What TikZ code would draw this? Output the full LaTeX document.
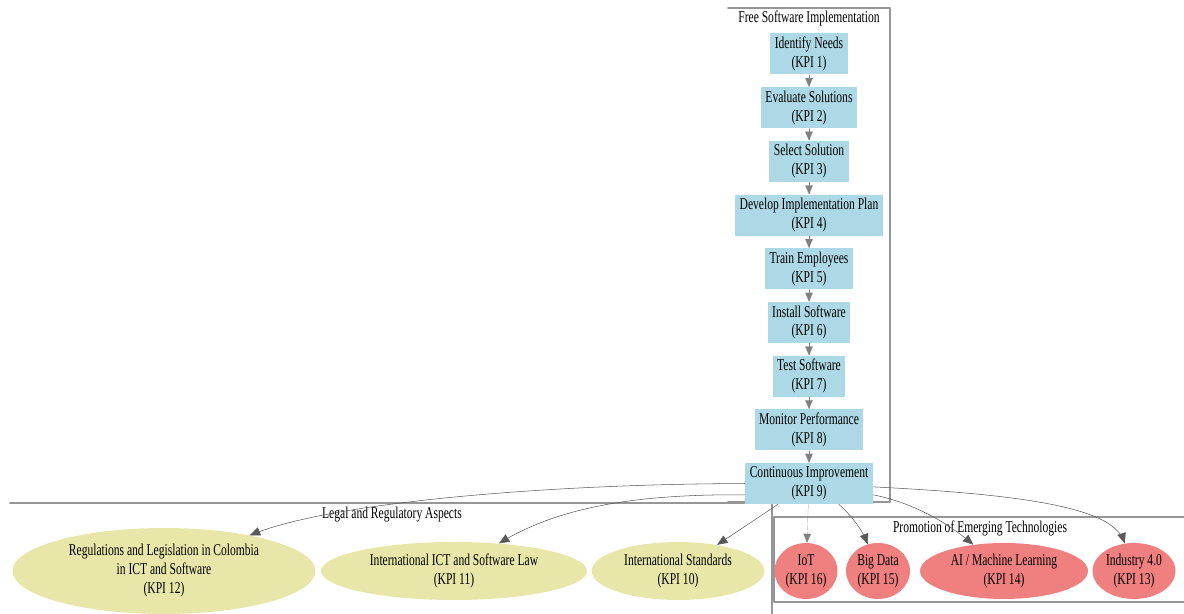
\documentclass[tikz,border=0pt]{standalone}
\usepackage{fontspec}
\setmainfont{Liberation Serif}[FakeStretch=0.7]
\usetikzlibrary{arrows}
\usetikzlibrary{positioning}
\usetikzlibrary{shapes.geometric}
\definecolor{fsblue}{RGB}{173,216,230}
\definecolor{legalyellow}{RGB}{232,230,168}
\definecolor{techred}{RGB}{240,128,128}
\definecolor{framegray}{RGB}{150,150,150}
\tikzset{
  kpifont/.style={font=\fontsize{9.4}{10.8}\selectfont},
  fsbox/.style={rectangle,fill=fsblue,align=center,kpifont,inner xsep=0.09cm,inner ysep=0pt,minimum height=0.82cm},
  legalell/.style={ellipse,fill=legalyellow,align=center,kpifont,inner sep=0pt},
  techell/.style={ellipse,fill=techred,align=center,kpifont,inner sep=0pt,minimum height=1.12cm},
  kpiarrow/.style={->,line width=0.3pt,black!65},
  steparrow/.style={->,line width=0.1pt,black!50},
  frame/.style={line width=0.9pt,framegray}
}

\begin{document}
\begin{tikzpicture}[line cap=round,line join=round,>=triangle 45,x=0.02cm,y=0.02cm]
\useasboundingbox (0,0) rectangle (1184,614);
\clip(0,0) rectangle (1184,614);
% cluster frames
\draw [frame] (728,606) -- (890,606) -- (890,112) -- (728,112);
\draw [frame] (10,111) -- (772,111) -- (772,-5);
\draw [frame] (1190,97) -- (774,97) -- (774,12) -- (1190,12);
\node [kpifont] (fslabel) at (809,596) {Free Software Implementation};
\node [kpifont] (legallabel) at (392,99) {Legal and Regulatory Aspects};
\node [kpifont] (techlabel) at (980,86) {Promotion of Emerging Technologies};
% implementation steps
\node [fsbox] (n1) at (809,560) {Identify Needs\\(KPI 1)};
\node [fsbox,below=0.24cm of n1] (n2) {Evaluate Solutions\\(KPI 2)};
\node [fsbox,below=0.24cm of n2] (n3) {Select Solution\\(KPI 3)};
\node [fsbox,below=0.24cm of n3] (n4) {Develop Implementation Plan\\(KPI 4)};
\node [fsbox,below=0.24cm of n4] (n5) {Train Employees\\(KPI 5)};
\node [fsbox,below=0.24cm of n5] (n6) {Install Software\\(KPI 6)};
\node [fsbox,below=0.24cm of n6] (n7) {Test Software\\(KPI 7)};
\node [fsbox,below=0.24cm of n7] (n8) {Monitor Performance\\(KPI 8)};
\node [fsbox,below=0.24cm of n8] (n9) {Continuous Improvement\\(KPI 9)};
\draw [steparrow] (n1) -- (n2);
\draw [steparrow] (n2) -- (n3);
\draw [steparrow] (n3) -- (n4);
\draw [steparrow] (n4) -- (n5);
\draw [steparrow] (n5) -- (n6);
\draw [steparrow] (n6) -- (n7);
\draw [steparrow] (n7) -- (n8);
\draw [steparrow] (n8) -- (n9);
% legal aspects
\node [legalell,minimum width=6.06cm,minimum height=1.72cm] (n12) at (164,43) {Regulations and Legislation in Colombia\\in ICT and Software\\(KPI 12)};
\node [legalell,minimum width=5.32cm,minimum height=1.16cm] (n11) at (454,43) {International ICT and Software Law\\(KPI 11)};
\node [legalell,minimum width=3.46cm,minimum height=1.16cm] (n10) at (678,43) {International Standards\\(KPI 10)};
% emerging technologies
\node [techell,minimum width=1.26cm] (n16) at (806,43) {IoT\\(KPI 16)};
\node [techell,minimum width=1.28cm] (n15) at (878,43) {Big Data\\(KPI 15)};
\node [techell,minimum width=3.36cm] (n14) at (1004,43) {AI / Machine Learning\\(KPI 14)};
\node [techell,minimum width=1.66cm] (n13) at (1134,43) {Industry 4.0\\(KPI 13)};
\draw [kpiarrow] (n9.west) .. controls (550,130) and (330,112) .. (n12);
\draw [kpiarrow] (n9.190) .. controls (640,120) and (560,108) .. (n11);
\draw [kpiarrow] (n9) -- (n10);
\draw [steparrow] (n9) -- (n16);
\draw [kpiarrow] (n9.-35) .. controls (850,100) and (862,85) .. (n15);
\draw [kpiarrow] (n9.-10) .. controls (920,110) and (955,85) .. (n14);
\draw [kpiarrow] (n9.-3) .. controls (1060,118) and (1115,100) .. (n13);
\end{tikzpicture}
\end{document}
